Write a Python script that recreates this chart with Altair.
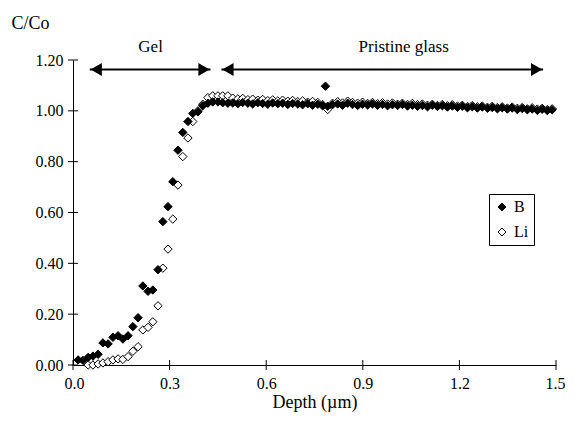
import altair as alt
import pandas as pd

# Depth grid (µm) of the measured points
depth = [0.016, 0.031, 0.047, 0.062, 0.078, 0.093, 0.109, 0.124, 0.140, 0.155,
         0.171, 0.186, 0.202, 0.217, 0.233, 0.248, 0.264, 0.279, 0.295, 0.310,
         0.326, 0.341, 0.357, 0.372, 0.388, 0.403, 0.419, 0.434, 0.450, 0.465,
         0.481, 0.496, 0.512, 0.527, 0.543, 0.558, 0.574, 0.589, 0.605, 0.620,
         0.636, 0.651, 0.667, 0.682, 0.698, 0.713, 0.729, 0.744, 0.760, 0.775,
         0.791, 0.806, 0.822, 0.837, 0.853, 0.868, 0.884, 0.899, 0.915, 0.930,
         0.946, 0.961, 0.977, 0.992, 1.008, 1.023, 1.039, 1.054, 1.070, 1.085,
         1.101, 1.116, 1.132, 1.147, 1.163, 1.178, 1.194, 1.209, 1.225, 1.240,
         1.256, 1.271, 1.287, 1.302, 1.318, 1.333, 1.349, 1.364, 1.380, 1.395,
         1.411, 1.426, 1.442, 1.457, 1.473, 1.488]

b_vals = [0.020, 0.018, 0.030, 0.035, 0.042, 0.087, 0.083, 0.109, 0.115, 0.102,
          0.115, 0.151, 0.186, 0.311, 0.290, 0.295, 0.375, 0.564, 0.623, 0.721,
          0.845, 0.915, 0.958, 0.990, 0.996, 1.020, 1.030, 1.035, 1.035, 1.032,
          1.030, 1.031, 1.028, 1.033, 1.030, 1.027, 1.032, 1.029, 1.026, 1.031,
          1.028, 1.030, 1.025, 1.029, 1.027, 1.024, 1.028, 1.022, 1.026, 1.020,
          1.018, 1.024, 1.027, 1.022, 1.030, 1.025, 1.021, 1.026, 1.023, 1.027,
          1.022, 1.025, 1.020, 1.024, 1.021, 1.025, 1.019, 1.022, 1.018, 1.021,
          1.016, 1.022, 1.017, 1.020, 1.015, 1.019, 1.014, 1.018, 1.012, 1.016,
          1.011, 1.015, 1.010, 1.013, 1.008, 1.012, 1.007, 1.011, 1.005, 1.009,
          1.004, 1.007, 1.002, 1.006, 1.001, 1.004]

li_vals = [None, None, 0.000, 0.000, 0.004, 0.008, 0.013, 0.020, 0.024, 0.022,
           0.033, 0.054, 0.072, 0.138, 0.148, 0.170, 0.233, 0.381, 0.456, 0.574,
           0.708, 0.820, 0.893, 0.958, 1.000, 1.026, 1.052, 1.059, 1.059, 1.059,
           1.059, 1.050, 1.047, 1.049, 1.044, 1.046, 1.042, 1.045, 1.040, 1.043,
           1.039, 1.042, 1.038, 1.041, 1.036, 1.039, 1.034, 1.037, 1.033, 1.025,
           1.005, 1.030, 1.036, 1.031, 1.038, 1.033, 1.030, 1.034, 1.029, 1.033,
           1.028, 1.032, 1.027, 1.031, 1.026, 1.030, 1.025, 1.029, 1.024, 1.027,
           1.022, 1.026, 1.021, 1.025, 1.020, 1.024, 1.019, 1.022, 1.017, 1.021,
           1.016, 1.019, 1.014, 1.018, 1.013, 1.016, 1.011, 1.015, 1.010, 1.013,
           1.008, 1.012, 1.007, 1.010, 1.005, 1.008]

# Extra isolated B point
b_extra_depth = [0.784]
b_extra_vals = [1.097]

x_ticks = [0.0, 0.3, 0.6, 0.9, 1.2, 1.5]
y_ticks = [0.0, 0.2, 0.4, 0.6, 0.8, 1.0, 1.2]

# Annotation arrows
arrow_labels = ["Gel", "Pristine glass"]
arrow_start = [0.052, 0.461]
arrow_end = [0.427, 1.460]
arrow_label_x = [0.241, 1.027]
arrow_y = 1.163
label_y = 1.25

FONT = "'Liberation Serif', 'DejaVu Serif', serif"

rows = []
for d, v in zip(depth, li_vals):
    if v is not None:
        rows.append({"depth": d, "value": v, "series": "Li"})
for d, v in zip(depth + b_extra_depth, b_vals + b_extra_vals):
    rows.append({"depth": d, "value": v, "series": "B"})
df = pd.DataFrame(rows)

W, H = 483, 305

xscale = alt.Scale(domain=[0, 1.5], nice=False, zero=False)
yscale = alt.Scale(domain=[0, 1.2], nice=False)

points = alt.Chart(df).mark_point(
    shape="diamond", filled=True, size=70, stroke="black", strokeWidth=1, opacity=1
).encode(
    x=alt.X("depth:Q", scale=xscale,
            axis=alt.Axis(values=x_ticks, format=".1f", ticks=False, grid=False,
                          labelFlush=True, labelFlushOffset=9,
                          domainColor="black", labelFontSize=16,
                          labelColor="black", labelPadding=10,
                          title="Depth (µm)", titleFontSize=18,
                          titleFontWeight="normal", titleColor="black",
                          titlePadding=2)),
    y=alt.Y("value:Q", scale=yscale,
            axis=alt.Axis(values=y_ticks, format=".2f", ticks=False, grid=False,
                          labelFlush=False, domainColor="black", labelFontSize=16,
                          labelColor="black", labelPadding=10,
                          title="C/Co", titleFontSize=18,
                          titleFontWeight="normal", titleColor="black",
                          titleAngle=0, titleAlign="left", titleBaseline="alphabetic",
                          titleX=-62, titleY=-32)),
    fill=alt.Fill("series:N",
                  scale=alt.Scale(domain=["B", "Li"], range=["black", "white"]),
                  legend=alt.Legend(title=None, orient="none", legendX=416, legendY=134,
                                    strokeColor="black", padding=5, symbolType="diamond",
                                    symbolSize=64, symbolStrokeColor="black",
                                    symbolStrokeWidth=1, labelFontSize=16,
                                    labelColor="black", rowPadding=9, labelOffset=4,
                                    fillColor="white")),
)

xt = pd.DataFrame({"v": x_ticks})
yt = pd.DataFrame({"v": y_ticks})
xtick_marks = alt.Chart(xt).mark_rule(color="black", strokeWidth=1).encode(
    x=alt.X("v:Q", scale=xscale), y=alt.value(H - 5), y2=alt.value(H + 5))
ytick_marks = alt.Chart(yt).mark_rule(color="black", strokeWidth=1).encode(
    y=alt.Y("v:Q", scale=yscale), x=alt.value(-5), x2=alt.value(5))

adf = pd.DataFrame({"label": arrow_labels, "x1": arrow_start, "x2": arrow_end,
                    "lx": arrow_label_x, "y": [arrow_y] * 2, "ly": [label_y] * 2})
lines = alt.Chart(adf).mark_rule(color="black", strokeWidth=2).encode(
    x=alt.X("x1:Q", scale=xscale), x2="x2:Q", y=alt.Y("y:Q", scale=yscale))
heads_l = alt.Chart(adf).mark_point(shape="triangle-left", filled=True, size=170,
                                    color="black", opacity=1, xOffset=6.5).encode(
    x=alt.X("x1:Q", scale=xscale), y=alt.Y("y:Q", scale=yscale))
heads_r = alt.Chart(adf).mark_point(shape="triangle-right", filled=True, size=170,
                                    color="black", opacity=1, xOffset=-6.5).encode(
    x=alt.X("x2:Q", scale=xscale), y=alt.Y("y:Q", scale=yscale))
labels = alt.Chart(adf).mark_text(fontSize=17, color="black",
                                  baseline="middle", align="center").encode(
    x=alt.X("lx:Q", scale=xscale), y=alt.Y("ly:Q", scale=yscale), text="label:N")

chart = alt.layer(points, xtick_marks, ytick_marks, lines, heads_l, heads_r, labels).properties(
    width=W, height=H,
    autosize=alt.AutoSizeParams(type="none"),
    padding={"left": 65, "top": 52, "right": 9, "bottom": 64},
).configure(background="white", font=FONT).configure_view(stroke=None)

chart.save("out.html", embed_options={"renderer": "svg", "actions": False})
